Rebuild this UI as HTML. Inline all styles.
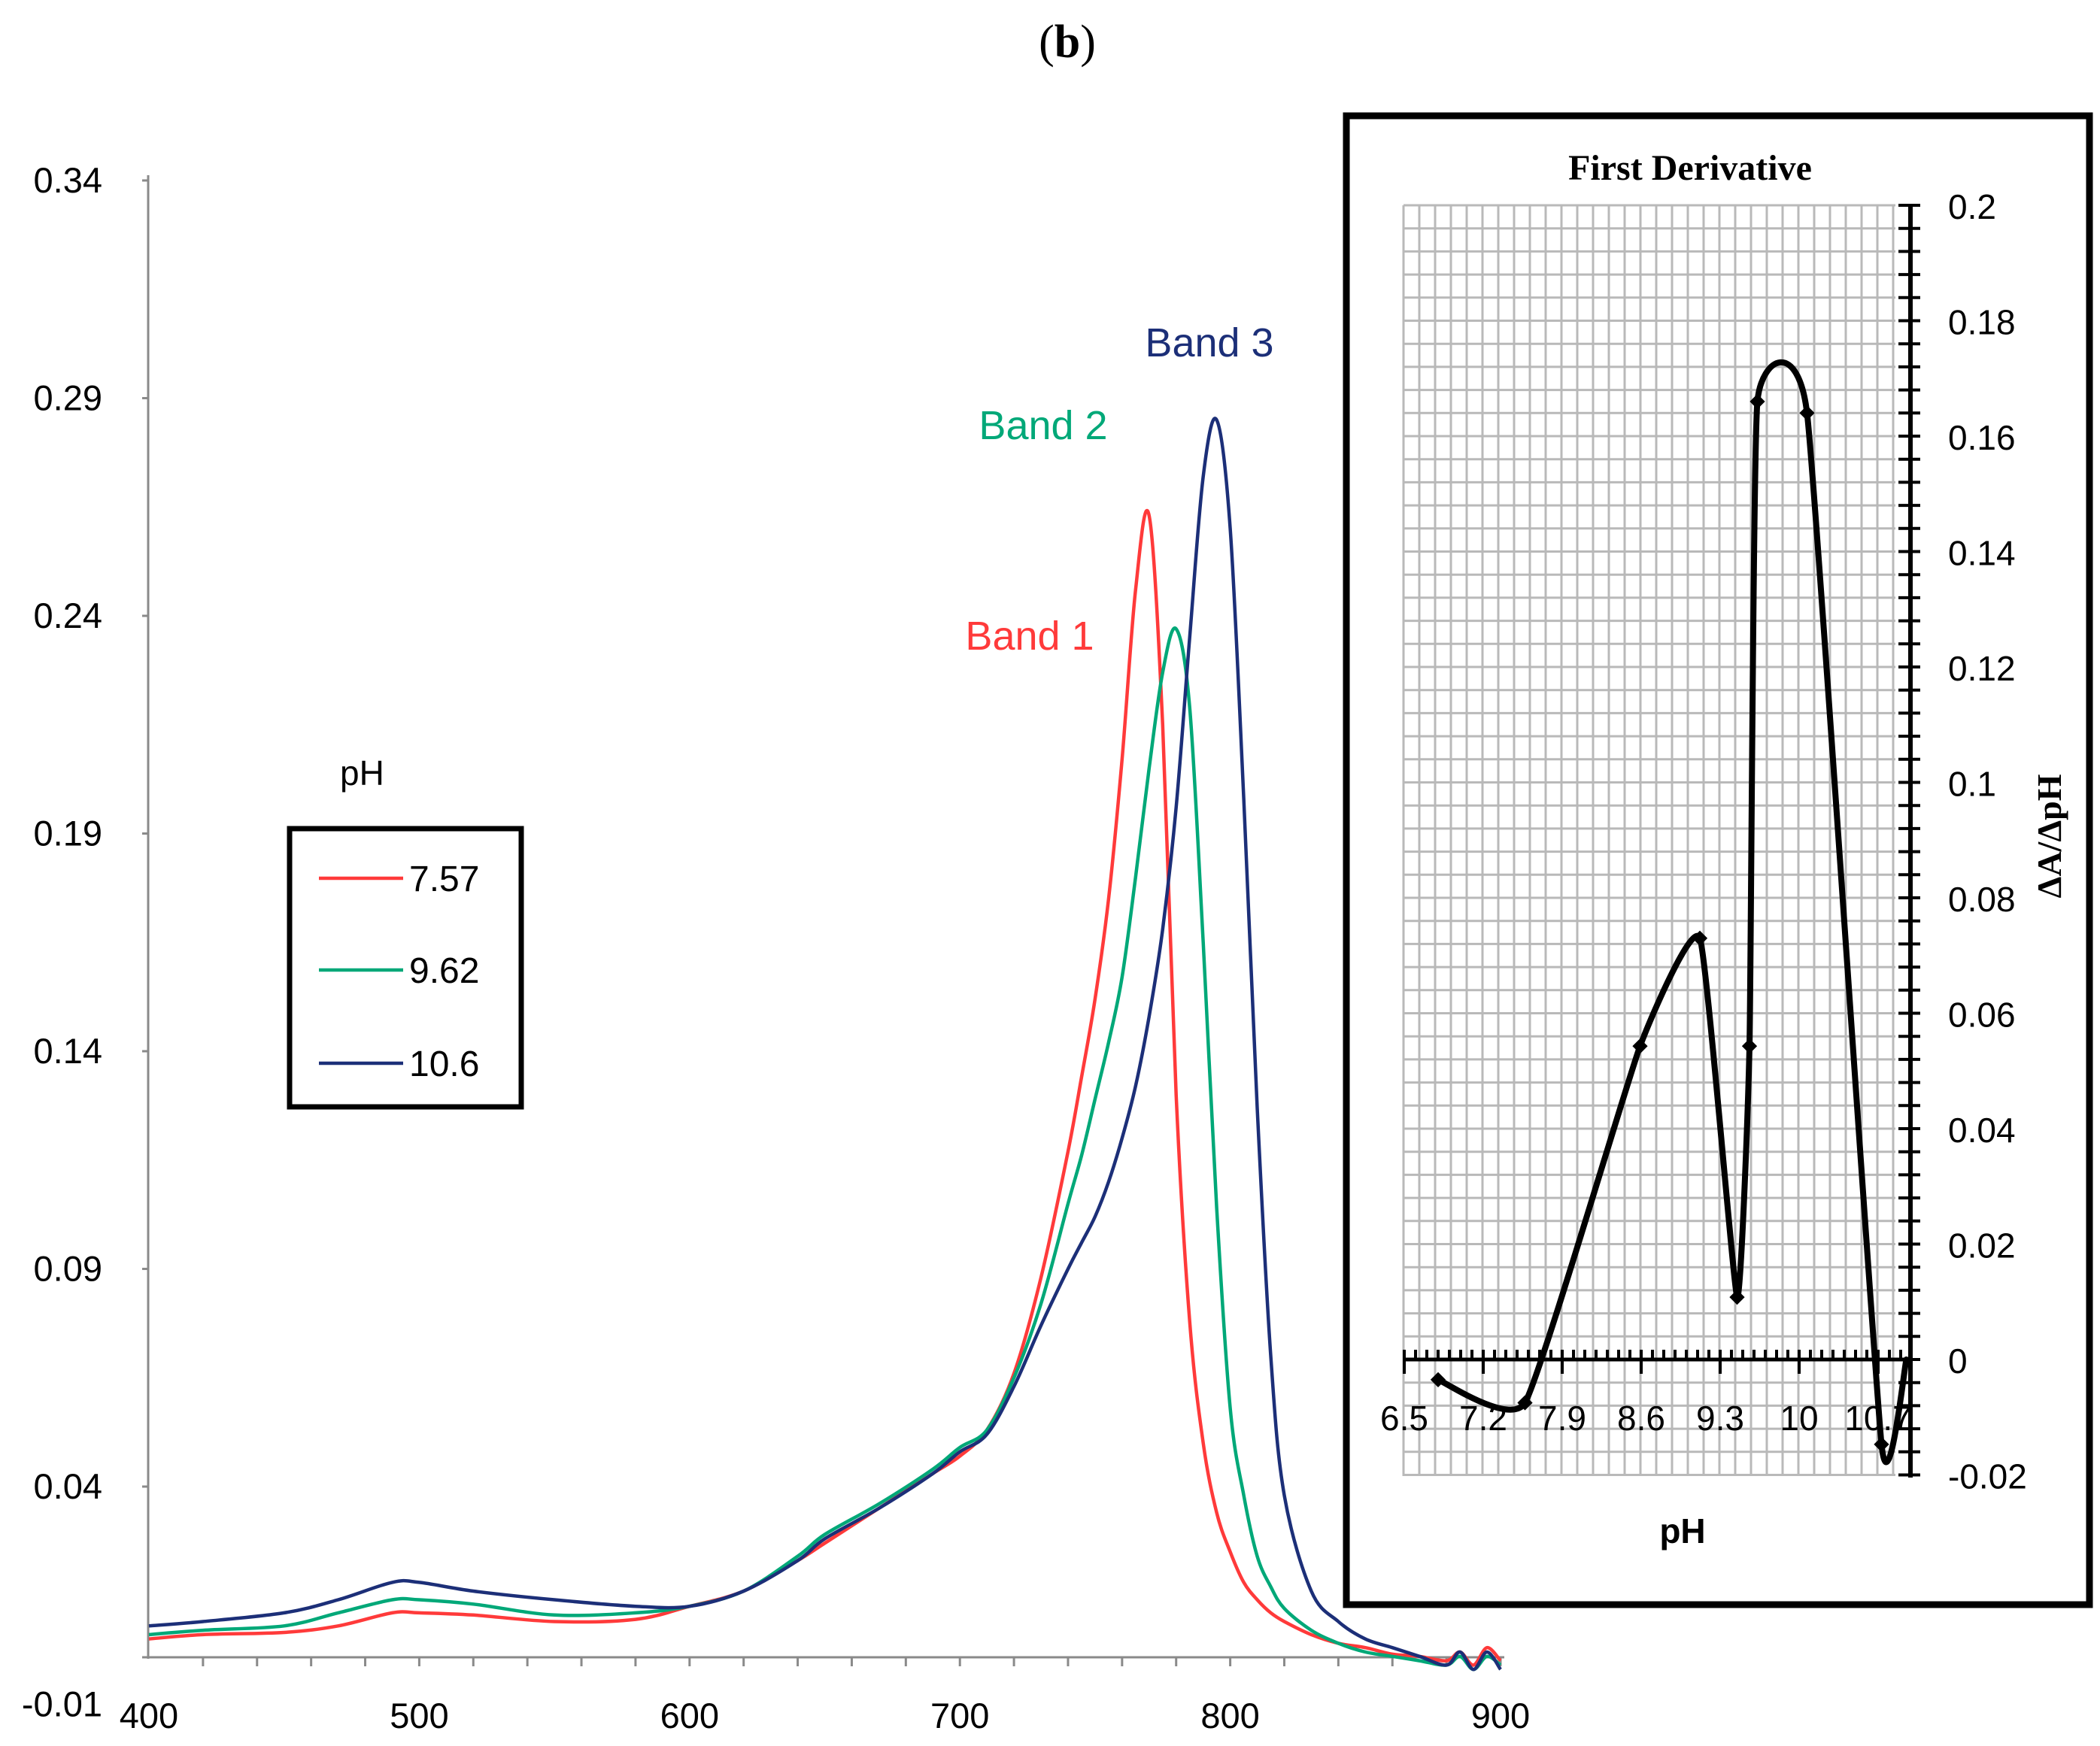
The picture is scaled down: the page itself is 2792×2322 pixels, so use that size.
<!DOCTYPE html>
<html><head><meta charset="utf-8"><style>
html,body{margin:0;padding:0;background:#fff;}
svg{display:block;}
text{font-family:"Liberation Sans",sans-serif;}
</style></head><body>
<svg id="chart" width="2792" height="2322" viewBox="0 0 2792 2322" xmlns="http://www.w3.org/2000/svg">
<text x="1419" y="76" text-anchor="middle" font-size="62" style="font-family:'Liberation Serif',serif">(<tspan font-weight="bold">b</tspan>)</text>
<g id="main"></g>
<g id="legend">
<text x="452" y="1044" font-size="46">pH</text>
<rect x="385" y="1102" width="308" height="370" fill="none" stroke="#000" stroke-width="7"/>
<g><line x1="424" y1="1168" x2="536" y2="1168" stroke="#ff3a3a" stroke-width="4.5"/><text x="544" y="1185" font-size="48">7.57</text></g>
<g><line x1="424" y1="1290" x2="536" y2="1290" stroke="#00a878" stroke-width="4.5"/><text x="544" y="1307" font-size="48">9.62</text></g>
<g><line x1="424" y1="1414" x2="536" y2="1414" stroke="#1c2f78" stroke-width="4.5"/><text x="544" y="1431" font-size="48">10.6</text></g>
</g>
<text x="1369" y="864" text-anchor="middle" font-size="54" fill="#ff3a3a">Band 1</text>
<text x="1387" y="584" text-anchor="middle" font-size="54" fill="#00a878">Band 2</text>
<text x="1608" y="474" text-anchor="middle" font-size="54" fill="#1c2f78">Band 3</text>
<g id="inset"></g>
</svg>
<script>
// ---- main chart data ----
const wavelengths=[400,420,450,470,490,500,520,550,580,600,620,640,650,670,690,700,710,720,730,740,745,750,755,760,765,770,775,780,785,790,795,800,805,810,815,820,830,840,850,860,870,880,885,890,895,900];
const absRed=[0.005,0.006,0.0065,0.008,0.011,0.011,0.0105,0.009,0.0095,0.0125,0.016,0.023,0.027,0.035,0.043,0.047,0.053,0.066,0.088,0.117,0.134,0.152,0.175,0.207,0.246,0.263,0.215,0.130,0.078,0.050,0.034,0.025,0.018,0.014,0.011,0.009,0.006,0.004,0.003,0.0015,0.001,0.0,0.002,-0.001,0.003,0.0];
const absGreen=[0.006,0.007,0.008,0.011,0.014,0.014,0.013,0.0105,0.011,0.0125,0.016,0.024,0.029,0.036,0.044,0.049,0.053,0.065,0.082,0.105,0.116,0.129,0.142,0.157,0.180,0.205,0.227,0.237,0.219,0.165,0.104,0.058,0.038,0.024,0.017,0.012,0.007,0.004,0.002,0.001,0.0,-0.001,0.001,-0.002,0.001,-0.001];
const absBlue=[0.008,0.009,0.011,0.014,0.018,0.018,0.016,0.014,0.0125,0.0125,0.016,0.023,0.028,0.035,0.043,0.048,0.052,0.063,0.077,0.090,0.096,0.102,0.110,0.120,0.132,0.148,0.168,0.196,0.235,0.272,0.285,0.260,0.198,0.127,0.070,0.038,0.016,0.009,0.005,0.003,0.001,-0.001,0.002,-0.002,0.002,-0.002];
const yTicksMain=[0.34,0.29,0.24,0.19,0.14,0.09,0.04,-0.01];
const xTicksMain=[400,500,600,700,800,900];
// ---- inset data ----
const phValues=[6.8,7.57,8.59,9.12,9.45,9.56,9.63,10.07,10.73,10.95];
const derivValues=[-0.0035,-0.0075,0.0543,0.073,0.0108,0.0543,0.166,0.164,-0.0147,0.0];
const phTicks=[6.5,7.2,7.9,8.6,9.3,10,10.7];
const derivTicks=[0.2,0.18,0.16,0.14,0.12,0.1,0.08,0.06,0.04,0.02,0,-0.02];

const NS="http://www.w3.org/2000/svg";
function mk(tag,attrs,parent){const e=document.createElementNS(NS,tag);for(const k in attrs)e.setAttribute(k,attrs[k]);parent.appendChild(e);return e;}
function smooth(pts,k){k=k||6;let d="M"+pts[0][0]+","+pts[0][1];for(let i=0;i<pts.length-1;i++){const p0=pts[Math.max(i-1,0)],p1=pts[i],p2=pts[i+1],p3=pts[Math.min(i+2,pts.length-1)];const c1x=p1[0]+(p2[0]-p0[0])/k,c1y=p1[1]+(p2[1]-p0[1])/k,c2x=p2[0]-(p3[0]-p1[0])/k,c2y=p2[1]-(p3[1]-p1[1])/k;d+=" C"+c1x.toFixed(1)+","+c1y.toFixed(1)+" "+c2x.toFixed(1)+","+c2y.toFixed(1)+" "+p2[0].toFixed(1)+","+p2[1].toFixed(1);}return d;}

// main axes
const xMain=nm=>198+(nm-400)*3.594;
const yMain=v=>240+(0.34-v)/0.05*289.5;
const main=document.getElementById("main");
const ax=mk("g",{},main);


const yAxis=mk("line",{x1:197,y1:233,x2:197,y2:2206,stroke:"#8a8a8a","stroke-width":3},ax);


const xAxis=mk("line",{x1:196,y1:2204,x2:2000,y2:2204,stroke:"#8a8a8a","stroke-width":3},ax);


for(let nm=420;nm<=900;nm+=20){const t=mk("line",{x1:xMain(nm),y1:2204,x2:xMain(nm),y2:2216,stroke:"#8a8a8a","stroke-width":3},ax);

}
yTicksMain.forEach(v=>{const y=yMain(v);
const tk=mk("line",{x1:189,y1:Math.min(y,2204),x2:197,y2:Math.min(y,2204),stroke:"#8a8a8a","stroke-width":3},ax);


const t=mk("text",{x:136,y:y+16,"text-anchor":"end","font-size":47},ax);t.textContent=String(v);

});
xTicksMain.forEach(nm=>{const t=mk("text",{x:xMain(nm),y:2298,"text-anchor":"middle","font-size":47},ax);t.textContent=String(nm);

});
[[absRed,"#ff3a3a","series-ph-7-57"],[absGreen,"#00a878","series-ph-9-62"],[absBlue,"#1c2f78","series-ph-10-6"]].forEach(s=>{
const pts=wavelengths.map((w,i)=>[xMain(w),yMain(s[0][i])]);
const p=mk("path",{d:smooth(pts,6),fill:"none",stroke:s[1],"stroke-width":4.5,"stroke-linejoin":"round"},main);

});

// inset
const inset=document.getElementById("inset");
const bx=mk("rect",{x:1790,y:154,width:988,height:1980,fill:"#fff",stroke:"#000","stroke-width":9},inset);


const it=mk("text",{x:2247,y:239,"text-anchor":"middle","font-size":48,"font-weight":"bold",style:"font-family:'Liberation Serif',serif"},inset);it.textContent="First Derivative";


const xPh=p=>1867+(p-6.5)*150;
const yD=v=>1808-v*7675;
const grid=mk("g",{stroke:"#b9b9b9","stroke-width":3},inset);


for(let x=1866;x<=2520;x+=21)mk("line",{x1:x,y1:273,x2:x,y2:1963},grid);
for(let y=273;y<=1965;y+=30.7)mk("line",{x1:1866,y1:y,x2:2520,y2:y},grid);
const ia=mk("g",{stroke:"#000"},inset);


mk("line",{x1:1866,y1:1808,x2:2540,y2:1808,"stroke-width":5},ia);
mk("line",{x1:2540,y1:271,x2:2540,y2:1965,"stroke-width":6},ia);
for(let i=0;i*0.1<=4.5;i++){const x=xPh(6.5+i*0.1);if(x>2540)break;const maj=i%7===0;mk("line",{x1:x,y1:maj?1827:1808,x2:x,y2:1795,"stroke-width":4},ia);}
for(let v=0.2;v>=-0.0201;v-=0.004){const y=yD(v);mk("line",{x1:2524,y1:y,x2:2553,y2:y,"stroke-width":4},ia);}
phTicks.forEach(p=>{const t=mk("text",{x:xPh(p),y:1902,"text-anchor":"middle","font-size":46},inset);t.textContent=String(p);

});
derivTicks.forEach(v=>{const t=mk("text",{x:2590,y:yD(v)+18,"font-size":46},inset);t.textContent=String(v);

});
const xt=mk("text",{x:2237,y:2052,"text-anchor":"middle","font-size":46,"font-weight":"bold"},inset);xt.textContent="pH";


const yt=mk("text",{x:0,y:0,"text-anchor":"middle","font-size":46,"font-weight":"bold",transform:"translate(2740,1112) rotate(-90)",style:"font-family:'Liberation Serif',serif"},inset);yt.textContent="ΔA/ΔpH";


const dpts=phValues.map((p,i)=>[xPh(p),yD(derivValues[i])]);
const dl=mk("path",{d:smooth(dpts,14),fill:"none",stroke:"#000","stroke-width":8,"stroke-linejoin":"round","stroke-linecap":"round"},inset);


dpts.slice(0,-1).forEach(q=>{const m=mk("path",{d:`M${q[0]-8},${q[1]} L${q[0]},${q[1]-8} L${q[0]+8},${q[1]} L${q[0]},${q[1]+8} Z`,fill:"#000",stroke:"#000","stroke-width":3},inset);

});
</script>
</body></html>
